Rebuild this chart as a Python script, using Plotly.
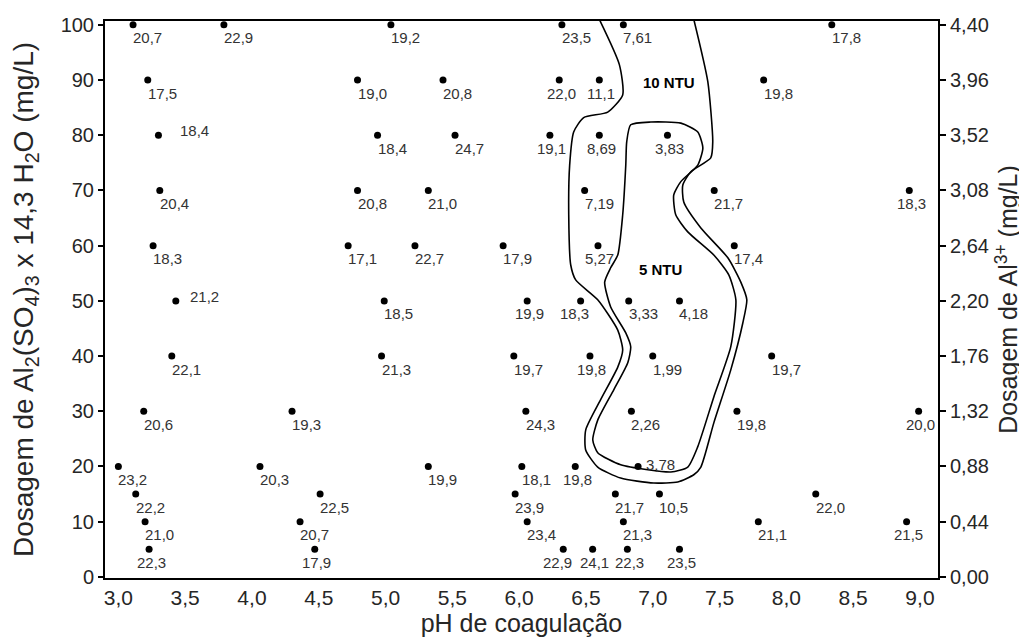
import plotly.graph_objects as go

# ---- data ----
ph = [3.11, 3.79, 5.04, 6.32, 6.78, 8.34,
      3.22, 4.79, 5.43, 6.30, 6.60, 7.83,
      3.30, 4.94, 5.52, 6.23, 6.60, 7.11,
      3.31, 4.79, 5.32, 6.49, 7.46, 8.92,
      3.26, 4.72, 5.22, 5.88, 6.59, 7.61,
      3.43, 4.99, 6.06, 6.46, 6.82, 7.20,
      3.40, 4.97, 5.96, 6.53, 7.00, 7.89,
      3.19, 4.30, 6.05, 6.84, 7.63, 8.99,
      3.00, 4.06, 5.32, 6.02, 6.42, 6.89,
      3.13, 4.51, 5.97, 6.72, 7.05, 8.22,
      3.20, 4.36, 6.06, 6.78, 7.79, 8.90,
      3.23, 4.47, 6.33, 6.55, 6.81, 7.20]
dose = [100] * 6 + [90] * 6 + [80] * 6 + [70] * 6 + [60] * 6 + [50] * 6 + \
       [40] * 6 + [30] * 6 + [20] * 6 + [15] * 6 + [10] * 6 + [5] * 6
turbidity = ["20,7", "22,9", "19,2", "23,5", "7,61", "17,8",
             "17,5", "19,0", "20,8", "22,0", "11,1", "19,8",
             "18,4", "18,4", "24,7", "19,1", "8,69", "3,83",
             "20,4", "20,8", "21,0", "7,19", "21,7", "18,3",
             "18,3", "17,1", "22,7", "17,9", "5,27", "17,4",
             "21,2", "18,5", "19,9", "18,3", "3,33", "4,18",
             "22,1", "21,3", "19,7", "19,8", "1,99", "19,7",
             "20,6", "19,3", "24,3", "2,26", "19,8", "20,0",
             "23,2", "20,3", "19,9", "18,1", "19,8", "3,78",
             "22,2", "22,5", "23,9", "21,7", "10,5", "22,0",
             "21,0", "20,7", "23,4", "21,3", "21,1", "21,5",
             "22,3", "17,9", "22,9", "24,1", "22,3", "23,5"]

# 10 NTU contour (open curve, top to top)
ntu10_ph = [6.600, 6.750, 6.775, 6.663, 6.483, 6.408, 6.378, 6.371, 6.386, 6.423,
            6.588, 6.738, 6.775, 6.738, 6.610, 6.498, 6.498, 6.588, 6.760, 7.007,
            7.187, 7.307, 7.360, 7.457, 7.584, 7.674, 7.704, 7.659, 7.562, 7.360,
            7.232, 7.225, 7.285, 7.434, 7.449, 7.412, 7.307]
ntu10_dose = [101, 92.8, 87.3, 84.2, 83.2, 80.6, 74.6, 65.6, 56.5, 53.8,
              50.2, 44.7, 41.1, 38.0, 32.1, 26.6, 23.0, 19.9, 17.9, 17.0,
              17.2, 18.5, 19.9, 27.9, 37.5, 46.0, 50.2, 53.4, 57.8, 63.2,
              67.9, 71.0, 73.4, 75.9, 78.8, 89.7, 101]

# 5 NTU contour (closed curve)
ntu5_ph = [6.835, 6.985, 7.210, 7.337, 7.375, 7.337, 7.210, 7.157, 7.172, 7.262,
           7.457, 7.569, 7.622, 7.584, 7.457, 7.337, 7.262, 7.135, 6.963, 6.760,
           6.588, 6.551, 6.588, 6.708, 6.813, 6.835, 6.798, 6.685, 6.640, 6.685,
           6.738, 6.775, 6.798, 6.805, 6.835]
ntu5_dose = [81.9, 82.4, 82.2, 80.6, 77.7, 74.6, 71.6, 69.2, 65.6, 62.5,
             58.3, 54.7, 50.2, 41.7, 32.6, 23.6, 19.9, 19.0, 19.4, 20.3,
             22.5, 24.8, 28.4, 33.9, 38.8, 41.7, 44.2, 48.9, 53.4, 56.0,
             58.3, 65.6, 74.6, 78.8, 81.9]

contour_labels = ["10 NTU", "5 NTU"]
contour_label_ph = [7.12, 7.06]
contour_label_dose = [89.5, 55.6]

x_ticks = [3.0, 3.5, 4.0, 4.5, 5.0, 5.5, 6.0, 6.5, 7.0, 7.5, 8.0, 8.5, 9.0]
y_ticks = [0, 10, 20, 30, 40, 50, 60, 70, 80, 90, 100]
al_ticks = ["0,00", "0,44", "0,88", "1,32", "1,76", "2,20",
            "2,64", "3,08", "3,52", "3,96", "4,40"]

# ---- label placement (style) ----
BR, BC, BL, MR, MW, MN = "br", "bc", "bl", "mr", "mw", "mn"
text_pos = [BR, BR, BR, BR, BR, BR,
            BR, BR, BR, BC, BC, BR,
            MW, BR, BR, BC, BC, BC,
            BR, BR, BR, BR, BR, BC,
            BR, BR, BR, BR, BC, BR,
            MR, BR, BC, BL, BR, BR,
            BR, BR, BR, BC, BR, BR,
            BR, BR, BR, BR, BR, BC,
            BR, BR, BR, BR, BC, MN,
            BR, BR, BR, BR, BR, BR,
            BR, BR, BR, BR, BR, BC,
            BC, BC, BL, BC, BC, BC]
place = {
    "br": dict(xanchor="left", yanchor="middle", xshift=-2, yshift=-13),
    "bc": dict(xanchor="center", yanchor="middle", xshift=2, yshift=-13),
    "bl": dict(xanchor="center", yanchor="middle", xshift=-6, yshift=-13),
    "mr": dict(xanchor="left", yanchor="middle", xshift=12, yshift=4),
    "mw": dict(xanchor="left", yanchor="middle", xshift=20, yshift=5),
    "mn": dict(xanchor="left", yanchor="middle", xshift=6, yshift=2),
}

FONT = "Liberation Sans, Arial, sans-serif"
TXT = "#262626"

fig = go.Figure()
fig.add_trace(go.Scatter(x=ntu10_ph, y=ntu10_dose, mode="lines",
                         line=dict(color="black", width=1.6, shape="spline", smoothing=0.6),
                         hoverinfo="skip", showlegend=False))
fig.add_trace(go.Scatter(x=ntu5_ph, y=ntu5_dose, mode="lines",
                         line=dict(color="black", width=1.6, shape="spline", smoothing=0.6),
                         hoverinfo="skip", showlegend=False))
fig.add_trace(go.Scatter(x=ph, y=dose, mode="markers", text=turbidity,
                         marker=dict(color="black", size=7),
                         cliponaxis=False, showlegend=False))
fig.add_trace(go.Scatter(x=[ph[0]], y=[dose[0]], yaxis="y2", mode="markers",
                         marker=dict(opacity=0), hoverinfo="skip", showlegend=False))

for xv, yv, t, p in zip(ph, dose, turbidity, text_pos):
    fig.add_annotation(x=xv, y=yv, text=t, showarrow=False,
                       font=dict(family=FONT, size=15, color="#333333"), **place[p])

for lab, lx, ly in zip(contour_labels, contour_label_ph, contour_label_dose):
    fig.add_annotation(x=lx, y=ly, text="<b>" + lab + "</b>", showarrow=False,
                       font=dict(family=FONT, size=15, color="black"))

# the page body adds an 8px offset; the figure is sized to fill the rest of the window
fig.update_layout(
    width=1019, height=629,
    margin=dict(l=97, r=89, t=13, b=59),
    paper_bgcolor="white", plot_bgcolor="white",
    separators=",.",
    font=dict(family=FONT, color=TXT),
    xaxis=dict(range=[2.90, 9.135], tickvals=x_ticks, tickformat=".1f",
               showline=True, linecolor="black", linewidth=2, mirror=True,
               showgrid=False, zeroline=False, ticks="", automargin=False,
               tickfont=dict(size=21, color=TXT),
               title=dict(text="pH de coagulação", font=dict(size=25, color=TXT),
                          standoff=2)),
    yaxis=dict(range=[-0.2, 100.7], tickvals=y_ticks,
               showline=True, linecolor="black", linewidth=2,
               showgrid=False, zeroline=False, ticks="outside", ticklen=5,
               tickcolor="black", tickwidth=1.5, automargin=False,
               tickfont=dict(size=20, color=TXT),
               title=dict(text="Dosagem de Al<sub>2</sub>(SO<sub>4</sub>)<sub>3</sub> x 14,3 H<sub>2</sub>O (mg/L)",
                          font=dict(size=28, color=TXT), standoff=22)),
    yaxis2=dict(range=[-0.2, 100.7], overlaying="y", side="right",
                tickvals=y_ticks, ticktext=al_ticks,
                showline=True, linecolor="black", linewidth=2,
                showgrid=False, zeroline=False, ticks="outside", ticklen=6,
                tickcolor="black", tickwidth=1.5, automargin=False,
                tickfont=dict(size=20, color=TXT),
                title=dict(text="Dosagem de Al<sup>3+</sup> (mg/L)",
                           font=dict(size=25, color=TXT), standoff=12)),
)

fig.write_html("out.html")
